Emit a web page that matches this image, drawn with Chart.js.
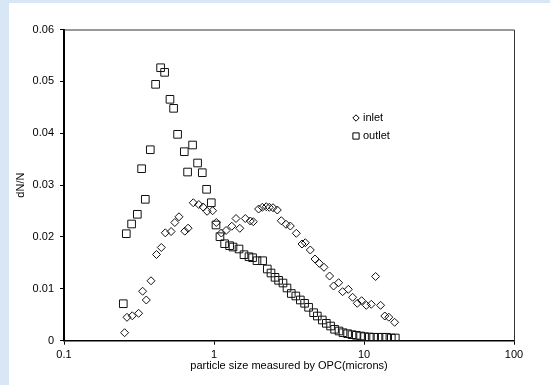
<!DOCTYPE html>
<html>
<head>
<meta charset="utf-8">
<script src="https://cdn.jsdelivr.net/npm/chart.js@4"></script>
<style>
  html, body { margin: 0; padding: 0; }
  body { width: 550px; height: 385px; background: #d9e6f6; position: relative; overflow: hidden; }
  #panel { position: absolute; left: 9px; top: 3px; width: 541px; height: 382px; background: #fff; }
  #chart { position: absolute; left: 0; top: 0; }
</style>
</head>
<body>
<div id="panel"></div>
<canvas id="chart" width="550" height="385"></canvas>
<script>
// particle size (microns) and dN/N
const inletSize = [
  0.2535, 0.263, 0.2853, 0.3144, 0.3342, 0.3537, 0.3802, 0.4135, 0.4453, 0.4734,
  0.5176, 0.548, 0.5843, 0.6388, 0.6719, 0.7278, 0.7917, 0.8459, 0.8995, 0.9787,
  1.036, 1.119, 1.204, 1.314, 1.402, 1.486, 1.617, 1.746, 1.828, 1.983,
  2.099, 2.232, 2.337, 2.474, 2.642, 2.809, 3.02, 3.227, 3.538, 3.861,
  4.061, 4.385, 4.713, 5.035, 5.412, 5.898, 6.272, 6.772, 7.2, 7.861,
  8.395, 9.024, 9.638, 10.36, 11.18, 11.95, 12.9, 13.76, 14.63, 16.0,
];
const inletDN = [
  0.00154, 0.00451, 0.0048, 0.00528, 0.00954, 0.00785, 0.01155, 0.01662, 0.01797, 0.0208,
  0.02105, 0.02279, 0.02389, 0.02111, 0.02169, 0.0266, 0.02626, 0.02578, 0.02495, 0.02506,
  0.02279, 0.02076, 0.02125, 0.02207, 0.02356, 0.02167, 0.02356, 0.02308, 0.02294, 0.02539,
  0.02572, 0.02583, 0.02572, 0.02564, 0.0252, 0.02313, 0.02244, 0.02211, 0.02071, 0.01864,
  0.01889, 0.01749, 0.01575, 0.01492, 0.01415, 0.01247, 0.01055, 0.01118, 0.00945, 0.00991,
  0.00837, 0.00721, 0.00771, 0.00682, 0.00702, 0.01238, 0.00682, 0.00476, 0.00453, 0.00355,
];
const outletSize = [
  0.2485, 0.2602, 0.2823, 0.3082, 0.3292, 0.3483, 0.3761, 0.408, 0.4406, 0.4686,
  0.5088, 0.5379, 0.5719, 0.6339, 0.6668, 0.72, 0.7774, 0.8356, 0.8926, 0.9594,
  1.031, 1.096, 1.177, 1.271, 1.339, 1.468, 1.585, 1.711, 1.808, 1.935,
  2.109, 2.266, 2.399, 2.551, 2.696, 2.884, 3.067, 3.276, 3.511, 3.762,
  4.018, 4.272, 4.613, 4.883, 5.272, 5.607, 5.988, 6.368, 6.813, 7.244,
  7.776, 8.318, 8.887, 9.491, 10.09, 10.85, 11.59, 12.4, 13.24, 14.15,
  15.21, 16.17,
];
const outletDN = [
  0.00713, 0.02063, 0.0225, 0.02437, 0.03316, 0.02726, 0.03682, 0.04943, 0.05263, 0.05174,
  0.04654, 0.0448, 0.03979, 0.03644, 0.03252, 0.03773, 0.03426, 0.03239, 0.02919, 0.0266,
  0.02231, 0.02005, 0.0187, 0.01832, 0.01806, 0.01768, 0.01658, 0.01619, 0.016, 0.01542,
  0.01542, 0.01382, 0.01305, 0.01222, 0.01164, 0.01112, 0.01016, 0.0091, 0.00862, 0.00785,
  0.00721, 0.00644, 0.0054, 0.00476, 0.00399, 0.00335, 0.00283, 0.0022, 0.00187, 0.00154,
  0.00135, 0.00116, 0.00104, 0.00091, 0.00077, 0.00071, 0.00066, 0.00066, 0.00066, 0.00066,
  0.00052, 0.00052,
];
const xTicks = [0.1, 1, 10, 100];
const seriesNames = ['inlet', 'outlet'];

const FONT = { family: "'Liberation Sans', Arial, sans-serif", size: 11 };

const toPoints = (xs, ys) => xs.map((x, i) => ({ x: x, y: ys[i] }));

// thin frame on top / right of the plot area
const frame = {
  id: 'frame',
  beforeDatasetsDraw(chart) {
    const { ctx, chartArea: a } = chart;
    ctx.save();
    ctx.strokeStyle = '#333';
    ctx.lineWidth = 1;
    ctx.beginPath();
    ctx.moveTo(a.left, a.top + 0.5);
    ctx.lineTo(a.right + 0.5, a.top + 0.5);
    ctx.lineTo(a.right + 0.5, a.bottom);
    ctx.stroke();
    ctx.restore();
  },
};

// little legend inside the plot, as in the picture (hollow markers)
const legendBox = {
  id: 'legendBox',
  afterDatasetsDraw(chart) {
    const { ctx } = chart;
    const styles = ['rectRot', 'rect'];
    const radii = [3.2, 4.4];
    ctx.save();
    ctx.font = FONT.size + 'px ' + FONT.family;
    ctx.textBaseline = 'middle';
    seriesNames.forEach((name, i) => {
      const y = 118 + i * 18;
      ctx.fillStyle = '#fff';
      ctx.strokeStyle = '#000';
      ctx.lineWidth = 1;
      Chart.helpers.drawPoint(ctx, {
        pointStyle: styles[i], radius: radii[i], rotation: 0, borderWidth: 1,
      }, 356, y);
      ctx.fillStyle = '#000';
      ctx.fillText(name, 363, y);
    });
    ctx.restore();
  },
};

new Chart(document.getElementById('chart'), {
  type: 'scatter',
  data: {
    datasets: [
      {
        label: seriesNames[0],
        data: toPoints(inletSize, inletDN),
        pointStyle: 'rectRot',
        pointRadius: 4,
        borderColor: '#111',
        backgroundColor: 'rgba(0,0,0,0)',
        borderWidth: 1,
      },
      {
        label: seriesNames[1],
        data: toPoints(outletSize, outletDN),
        pointStyle: 'rect',
        pointRadius: 5.4,
        borderColor: '#111',
        backgroundColor: 'rgba(0,0,0,0)',
        borderWidth: 1,
      },
    ],
  },
  options: {
    responsive: false,
    animation: false,
    devicePixelRatio: 1,
    layout: { padding: { top: 29.5, right: 36, left: 0, bottom: 0 } },
    plugins: { legend: { display: false }, tooltip: { enabled: false } },
    scales: {
      x: {
        type: 'logarithmic',
        min: 0.1,
        max: 100,
        afterBuildTicks: axis => {
          axis.ticks = xTicks.map(v => ({ value: v }));
        },
        afterFit: scale => { scale.height = 44.3; },
        grid: { drawOnChartArea: false, drawTicks: true, tickLength: 4, tickColor: '#000' },
        border: { display: true, color: '#000', width: 1.5 },
        ticks: {
          font: FONT, color: '#000', padding: 4, maxRotation: 0,
          callback: v => String(v),
        },
        title: {
          display: true,
          text: 'particle size measured by OPC(microns)',
          font: FONT, color: '#000',
          padding: { top: 0, bottom: 12 },
        },
      },
      y: {
        min: 0,
        max: 0.06,
        afterFit: scale => { scale.width = 64; },
        grid: { drawOnChartArea: false, drawTicks: true, tickLength: 4, tickColor: '#000' },
        border: { display: true, color: '#000', width: 2 },
        ticks: {
          stepSize: 0.01, font: FONT, color: '#000', padding: 6,
          callback: v => String(Number(v.toFixed(2))),
        },
        title: {
          display: true,
          text: 'dN/N',
          font: FONT, color: '#000',
          padding: { top: 14.4, bottom: 0 },
        },
      },
    },
  },
  plugins: [frame, legendBox],
});
</script>
</body>
</html>
